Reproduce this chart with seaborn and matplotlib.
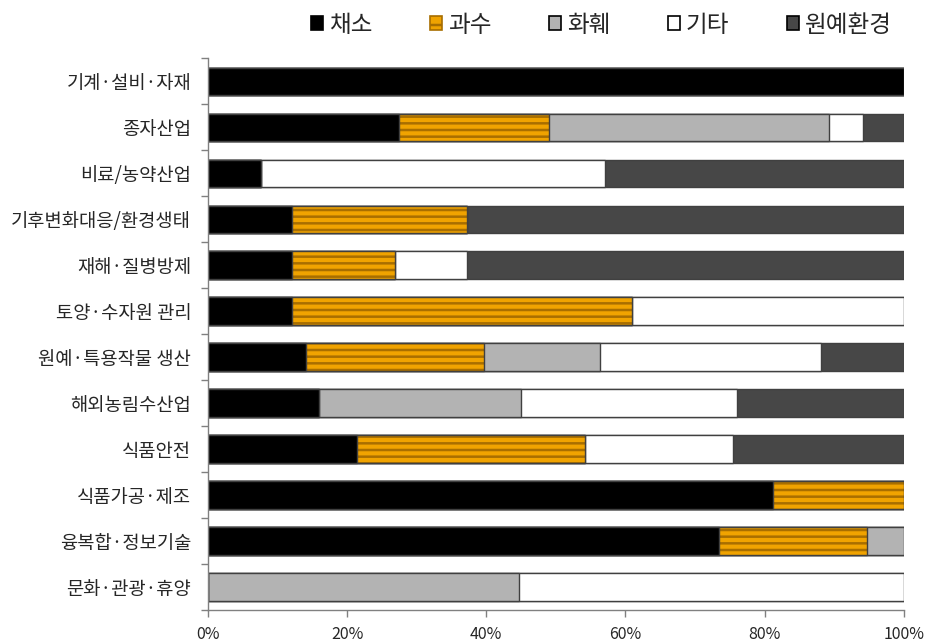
import numpy as np
import pandas as pd
import seaborn as sns
import matplotlib.pyplot as plt
from matplotlib.patches import Patch

DPI = 120
S = 100.0 / DPI  # keep pixel sizes as if at 100 dpi

sns.set_theme(style='white')
plt.rcParams['font.family'] = ['Noto Sans CJK KR', 'DejaVu Sans']
plt.rcParams['hatch.linewidth'] = 1.5

categories = ['기계·설비·자재', '종자산업', '비료/농약산업', '기후변화대응/환경생태',
              '재해·질병방제', '토양·수자원 관리', '원예·특용작물 생산', '해외농림수산업',
              '식품안전', '식품가공·제조', '융복합·정보기술', '문화·관광·휴양']
series_names = ['채소', '과수', '화훼', '기타', '원예환경']

veg    = [100.0, 27.4,  7.6, 12.1, 12.1, 12.1, 14.1, 15.9, 21.4, 81.2, 73.4,  0.0]
fruit  = [  0.0, 21.6,  0.0, 25.1, 14.8, 48.8, 25.6,  0.0, 32.8, 18.8, 21.3,  0.0]
flower = [  0.0, 40.2,  0.0,  0.0,  0.0,  0.0, 16.6, 29.1,  0.0,  0.0,  5.3, 44.7]
other  = [  0.0,  4.9, 49.4,  0.0, 10.3, 39.1, 31.8, 31.0, 21.2,  0.0,  0.0, 55.3]
envir  = [  0.0,  5.9, 43.0, 62.8, 62.8,  0.0, 11.9, 24.0, 24.6,  0.0,  0.0,  0.0]

colors = ['#000000', '#F0A300', '#B3B3B3', '#FFFFFF', '#474747']
edge = '#404040'
stripe = '#A86E00'

series = [veg, fruit, flower, other, envir]
cum = np.cumsum(np.array(series), axis=0)
df = pd.DataFrame({'category': categories})
for i, name in enumerate(series_names):
    df[name] = cum[i]

fig = plt.figure(figsize=(9.28 * S, 6.41 * S), dpi=DPI)
ax = fig.add_axes([0.224, 0.048, 0.75, 0.861])

bar_w = 0.6
for i in reversed(range(len(series_names))):
    name = series_names[i]
    n0 = len(ax.patches)
    sns.barplot(data=df, x=name, y='category', order=categories, orient='h',
                color=colors[i], saturation=1, width=bar_w, ax=ax,
                edgecolor=edge, linewidth=1.0 * S)
    if name == '과수':
        for p in ax.patches[n0:]:
            p.set_hatch('---')
            p.set_edgecolor(stripe)
            p.set_linewidth(0)
        n1 = len(ax.patches)
        sns.barplot(data=df, x=name, y='category', order=categories, orient='h',
                    color=colors[i], saturation=1, width=bar_w, ax=ax,
                    edgecolor=edge, linewidth=1.0 * S)
        for p in ax.patches[n1:]:
            p.set_facecolor('none')

ax.set_xlim(0, 100)
ax.set_ylim(len(categories) - 0.5, -0.5)
ax.set_xlabel('')
ax.set_ylabel('')
ax.set_xticks([0, 20, 40, 60, 80, 100])
ax.set_xticklabels(['0%', '20%', '40%', '60%', '80%', '100%'], fontsize=11.5 * S)
ax.set_yticks(range(len(categories)))
ax.set_yticklabels(categories, fontsize=13.5 * S)
ax.set_yticks(np.arange(-0.5, len(categories), 1.0), minor=True)
ax.tick_params(axis='y', which='major', length=0, pad=12 * S)
ax.tick_params(axis='y', which='minor', length=5 * S, width=1.0 * S, color='#808080',
               direction='out', left=True)
ax.tick_params(axis='x', length=5 * S, width=1.0 * S, color='#808080', direction='out',
               bottom=True, pad=6 * S)
for s in ['top', 'right']:
    ax.spines[s].set_visible(False)
for s in ['left', 'bottom']:
    ax.spines[s].set_color('#808080')
    ax.spines[s].set_linewidth(1.0 * S)

handles = []
for i, name in enumerate(series_names):
    if name == '과수':
        handles.append(Patch(facecolor=colors[i], edgecolor=stripe, hatch='--', label=name))
    else:
        handles.append(Patch(facecolor=colors[i], edgecolor='#000000', label=name))
fig.legend(handles=handles, loc='upper center', bbox_to_anchor=(0.648, 1.012), ncol=5,
           frameon=False, fontsize=17 * S, handlelength=0.5, handleheight=0.5,
           handletextpad=0.25, columnspacing=2.45)

fig.savefig('out.png', dpi=DPI)
